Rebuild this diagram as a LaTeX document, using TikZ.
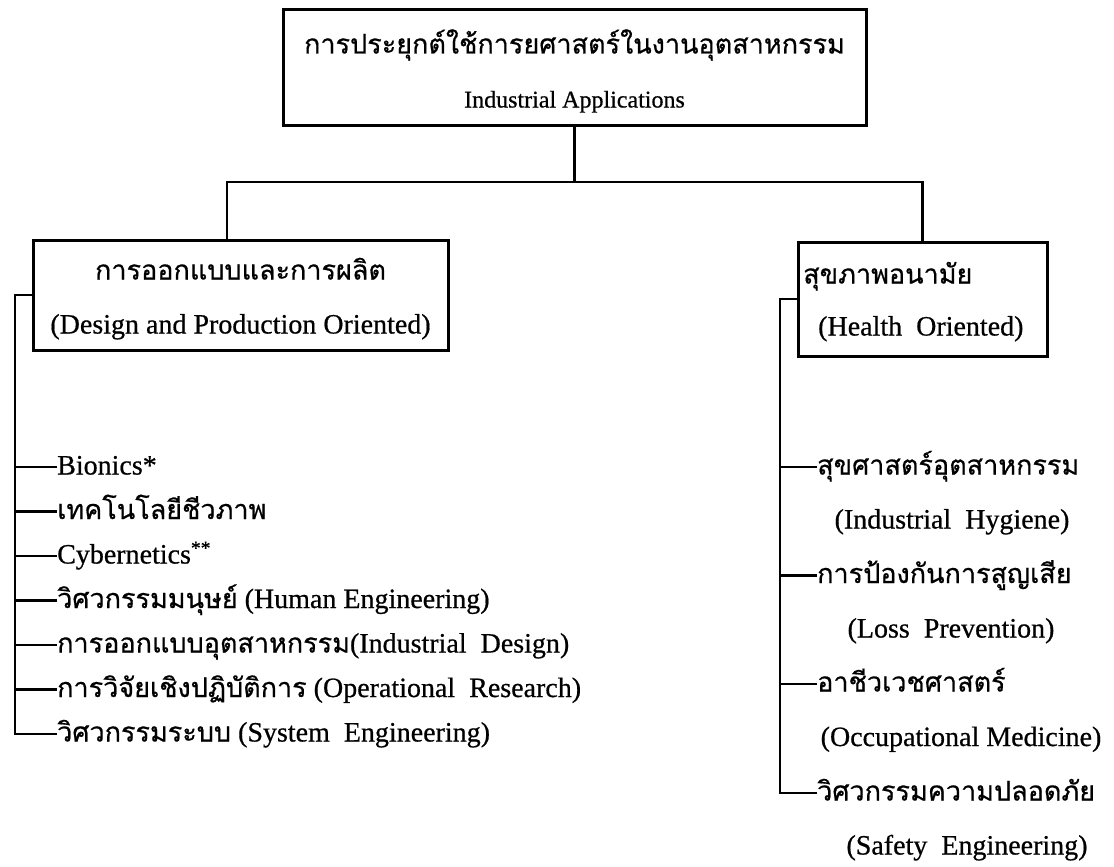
\documentclass[tikz,border=0pt]{standalone}
\usepackage{fontspec}
\setmainfont[FakeBold=0.6]{Liberation Serif}
\newfontfamily\thaifont[Script=Thai, FakeBold=0.6]{Loma}
\newcommand{\tha}[1]{{\thaifont\fontsize{27}{29}\selectfont #1}}
\begin{document}
\begin{tikzpicture}[x=1pt,y=-1pt,
  box/.style={draw, line width=3pt, inner sep=0pt},
  conn/.style={line width=2.5pt},
  lbl/.style={inner sep=0pt, font=\fontsize{28}{30}\selectfont, text height=20pt, text depth=5pt},
  item/.style={lbl, anchor=west}]
\useasboundingbox (0,0) rectangle (1114,867);
% boxes
\node[box, minimum width=583pt, minimum height=115pt] (top) at (574.5,67.5) {};
\node[box, minimum width=415pt, minimum height=110pt] (L) at (240.5,295) {};
\node[box, minimum width=249pt, minimum height=114pt] (R) at (922.5,299) {};
% box texts
\node[lbl] (topth) at (574.5,46) {\tha{การประยุกต์ใช้การยศาสตร์ในงานอุตสาหกรรม}};
\node[lbl, font=\fontsize{24}{26}\selectfont] (topen) at (574.5,100) {Industrial Applications};
\node[lbl] (Lth) at (240.5,272) {\tha{การออกแบบและการผลิต}};
\node[lbl] (Len) at (240.5,326) {(Design and Production Oriented)};
\node[item] (Rth) at (803,276) {\tha{สุขภาพอนามัย}};
\node[item] (Ren) at (818,328) {(Health\ \ Oriented)};
% tree connectors
\coordinate (bl) at (227,182);
\coordinate (br) at (922.5,182);
\draw[conn] (top.south) -- (top.south |- bl);
\draw[conn] (L.north -| bl) -- (bl) -- (br) -- (R.north -| br);
% left items
\coordinate (lt) at (15,0);
\node[item] (l1) at (57,467) {Bionics*};
\node[item] (l2) at (57,511.5) {\tha{เทคโนโลยีชีวภาพ}};
\node[item] (l3) at (57,556) {Cybernetics\textsuperscript{**}};
\node[item] (l4) at (57,600.5) {\tha{วิศวกรรมมนุษย์} (Human Engineering)};
\node[item] (l5) at (57,645) {\tha{การออกแบบอุตสาหกรรม}(Industrial\ \ Design)};
\node[item] (l6) at (57,689.5) {\tha{การวิจัยเชิงปฏิบัติการ} (Operational\ \ Research)};
\node[item] (l7) at (57,734) {\tha{วิศวกรรมระบบ} (System\ \ Engineering)};
\draw[conn] (L.west) -- (L.west -| lt) -- (l7.west -| lt) -- (l7.west);
\foreach \i in {1,...,6} \draw[conn] (l\i.west -| lt) -- (l\i.west);
% right items
\coordinate (rt) at (780,0);
\node[item] (r1) at (817,467) {\tha{สุขศาสตร์อุตสาหกรรม}};
\node[lbl] (r1e) at (952,521) {(Industrial\ \ Hygiene)};
\node[item] (r2) at (817,575.5) {\tha{การป้องกันการสูญเสีย}};
\node[lbl] (r2e) at (951,630) {(Loss\ \ Prevention)};
\node[item] (r3) at (817,684) {\tha{อาชีวเวชศาสตร์}};
\node[lbl] (r3e) at (961,738.5) {(Occupational Medicine)};
\node[item] (r4) at (817,793) {\tha{วิศวกรรมความปลอดภัย}};
\node[lbl] (r4e) at (967,847) {(Safety\ \ Engineering)};
\draw[conn] (R.west) -- (R.west -| rt) -- (r4.west -| rt) -- (r4.west);
\foreach \i in {1,2,3} \draw[conn] (r\i.west -| rt) -- (r\i.west);
\end{tikzpicture}
\end{document}
